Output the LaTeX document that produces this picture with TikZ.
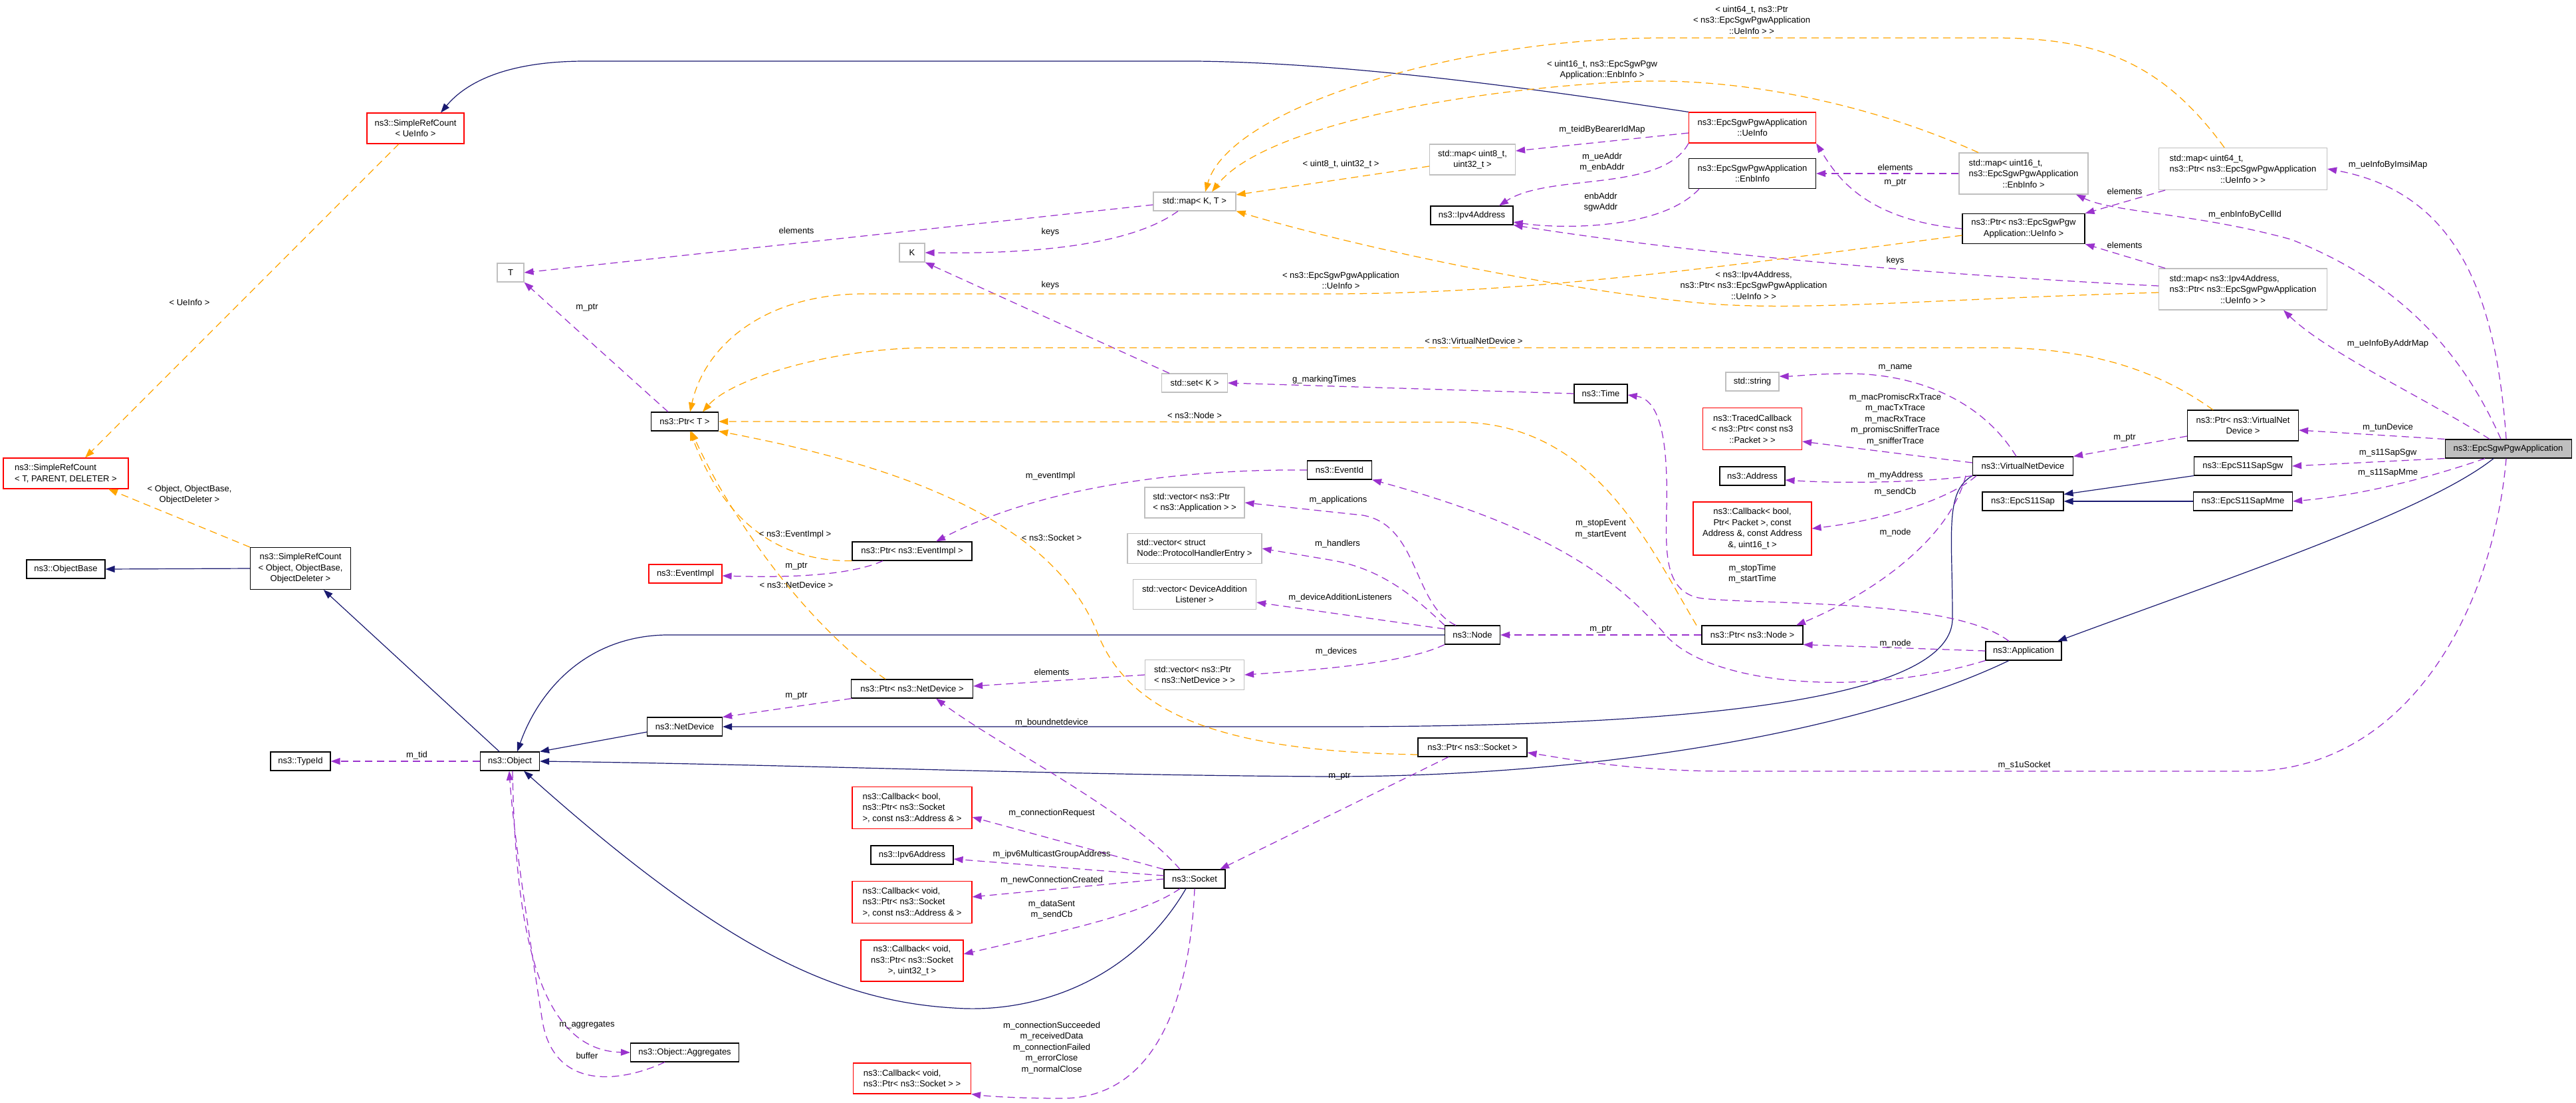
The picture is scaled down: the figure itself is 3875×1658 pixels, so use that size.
\documentclass[tikz,border=0pt]{standalone}
\usepackage{fontspec}
\setmainfont{Liberation Sans}
\usepackage{tikz}
\usetikzlibrary{arrows.meta,positioning,calc}
\definecolor{dxNavy}{RGB}{25,25,112}
\definecolor{dxOrchid}{RGB}{154,50,205}
\definecolor{dxOrange}{RGB}{255,165,0}
\definecolor{dxGrey}{RGB}{191,191,191}
\definecolor{dxRed}{RGB}{255,0,0}
\newcommand{\dxfont}{\fontsize{13}{16.5}\selectfont}

\begin{document}
\begin{tikzpicture}[
    x=1pt, y=-1pt,
    cls/.style={draw=black, fill=white, line width=1.1pt, font=\dxfont, align=center, inner xsep=4pt, inner ysep=3pt, minimum height=28pt},
    redcls/.style={cls, draw=dxRed},
    greycls/.style={cls, draw=dxGrey},
    focus/.style={cls, fill=dxGrey},
    lbl/.style={font=\dxfont, align=center, inner sep=0pt},
    inh/.style={draw=dxNavy, line width=1.2pt, -{Triangle[length=14pt,width=10pt]}},
    member/.style={draw=dxOrchid, line width=1.25pt, dash pattern=on 11pt off 7pt, -{Triangle[length=14pt,width=10pt]}},
    tmpl/.style={draw=dxOrange, line width=1.25pt, dash pattern=on 11pt off 7pt, -{Triangle[length=14pt,width=10pt]}}
  ]
  \path[use as bounding box, fill=white] (0,0) rectangle (3875,1658);

  % classes
  \node[focus, minimum width=190pt] (sgw) at (3773,675) {ns3::EpcSgwPgwApplication};
  \node[redcls, minimum width=191pt, minimum height=46pt] (ueinfo) at (2636,192) {ns3::EpcSgwPgwApplication\\::UeInfo};
  \node[redcls, minimum width=146pt, minimum height=46pt] (srcue) at (625,193) {ns3::SimpleRefCount\\< UeInfo >};
  \node[redcls, minimum width=188pt, minimum height=46pt, align=left] (srct) at (99,712) {ns3::SimpleRefCount\\< T, PARENT, DELETER >};
  \node[cls, minimum width=118pt] (objbase) at (99,856) {ns3::ObjectBase};
  \node[cls, minimum width=151pt, minimum height=63pt] (srcobj) at (452,855) {ns3::SimpleRefCount\\< Object, ObjectBase,\\ObjectDeleter >};
  \node[cls, minimum width=90pt] (typeid) at (452,1145) {ns3::TypeId};
  \node[cls, minimum width=89pt] (object) at (767,1145) {ns3::Object};
  \node[cls, minimum width=163pt] (aggr) at (1030,1583) {ns3::Object::Aggregates};
  \node[greycls, minimum width=40pt] (tparam) at (768,410) {T};
  \node[greycls, minimum width=38pt] (kparam) at (1372,380) {K};
  \node[cls, minimum width=101pt] (ptrt) at (1030,634) {ns3::Ptr< T >};
  \node[redcls, minimum width=110pt] (eventimpl) at (1031,863) {ns3::EventImpl};
  \node[cls, minimum width=180pt] (ptrevimpl) at (1372,829) {ns3::Ptr< ns3::EventImpl >};
  \node[cls, minimum width=113pt] (netdev) at (1030,1093) {ns3::NetDevice};
  \node[cls, minimum width=183pt] (ptrnetdev) at (1372,1036) {ns3::Ptr< ns3::NetDevice >};
  \node[greycls, minimum width=124pt] (mapkt) at (1797,303) {std::map< K, T >};
  \node[greycls, minimum width=99pt] (setk) at (1797,576) {std::set< K >};
  \node[greycls, minimum width=150pt, minimum height=46pt, align=left] (vecapp) at (1797,756) {std::vector< ns3::Ptr\\< ns3::Application > >};
  \node[greycls, minimum width=202pt, minimum height=45pt, align=left] (vecph) at (1797,825) {std::vector< struct\\Node::ProtocolHandlerEntry >};
  \node[greycls, minimum width=185pt, minimum height=45pt] (vecdal) at (1797,894) {std::vector< DeviceAddition\\Listener >};
  \node[greycls, minimum width=149pt, minimum height=45pt, align=left] (vecnd) at (1797,1015) {std::vector< ns3::Ptr\\< ns3::NetDevice > >};
  \node[cls, minimum width=97pt] (eventid) at (2015,707) {ns3::EventId};
  \node[redcls, minimum width=180pt, minimum height=63pt, align=left] (cbconnreq) at (1372,1215) {ns3::Callback< bool,\\ns3::Ptr< ns3::Socket\\>, const ns3::Address \& >};
  \node[cls, minimum width=124pt] (ipv6) at (1372,1286) {ns3::Ipv6Address};
  \node[redcls, minimum width=180pt, minimum height=63pt, align=left] (cbnewconn) at (1372,1357) {ns3::Callback< void,\\ns3::Ptr< ns3::Socket\\>, const ns3::Address \& >};
  \node[redcls, minimum width=154pt, minimum height=62pt] (cbsent) at (1372,1445) {ns3::Callback< void,\\ns3::Ptr< ns3::Socket\\>, uint32\_t >};
  \node[redcls, minimum width=177pt, minimum height=46pt, align=left] (cbsock) at (1372,1622) {ns3::Callback< void,\\ns3::Ptr< ns3::Socket > >};
  \node[cls, minimum width=92pt] (socket) at (1797,1322) {ns3::Socket};
  \node[greycls, minimum width=129pt, minimum height=46pt] (mapueight) at (2215,240) {std::map< uint8\_t,\\uint32\_t >};
  \node[cls, minimum width=124pt] (ipv4) at (2214,324) {ns3::Ipv4Address};
  \node[cls, minimum width=191pt, minimum height=45pt] (enbinfo) at (2636,261) {ns3::EpcSgwPgwApplication\\::EnbInfo};
  \node[greycls, minimum width=194pt, minimum height=62pt] (mapenb) at (3044,261) {\rlap{std::map< uint16\_t,}\phantom{ns3::EpcSgwPgwApplication}\\ns3::EpcSgwPgwApplication\\::EnbInfo >};
  \node[cls, minimum width=184pt, minimum height=45pt] (ptrue) at (3044,344) {ns3::Ptr< ns3::EpcSgwPgw\\Application::UeInfo >};
  \node[greycls, minimum width=253pt, minimum height=63pt] (mapimsi) at (3374,254) {\rlap{std::map< uint64\_t,}\phantom{ns3::Ptr< ns3::EpcSgwPgwApplication}\\ns3::Ptr< ns3::EpcSgwPgwApplication\\::UeInfo > >};
  \node[greycls, minimum width=253pt, minimum height=62pt] (mapaddr) at (3374,435) {\rlap{std::map< ns3::Ipv4Address,}\phantom{ns3::Ptr< ns3::EpcSgwPgwApplication}\\ns3::Ptr< ns3::EpcSgwPgwApplication\\::UeInfo > >};
  \node[cls, minimum width=80pt] (time) at (2408,592) {ns3::Time};
  \node[greycls, minimum width=80pt] (string) at (2636,574) {std::string};
  \node[redcls, minimum width=149pt, minimum height=63pt] (traced) at (2636,645) {ns3::TracedCallback\\< ns3::Ptr< const ns3\\::Packet > >};
  \node[cls, minimum width=98pt] (address) at (2636,716) {ns3::Address};
  \node[redcls, minimum width=178pt, minimum height=80pt] (cbrecv) at (2636,795) {ns3::Callback< bool,\\Ptr< Packet >, const\\Address \&, const Address\\\&, uint16\_t >};
  \node[cls, minimum width=151pt] (vnd) at (3043,701) {ns3::VirtualNetDevice};
  \node[cls, minimum width=83pt] (nsnode) at (2215,955) {ns3::Node};
  \node[cls, minimum width=152pt] (ptrnode) at (2636,955) {ns3::Ptr< ns3::Node >};
  \node[cls, minimum width=114pt] (app) at (3044,979) {ns3::Application};
  \node[cls, minimum width=164pt] (ptrsock) at (2215,1124) {ns3::Ptr< ns3::Socket >};
  \node[cls, minimum width=167pt, minimum height=46pt] (ptrvnd) at (3374,640) {ns3::Ptr< ns3::VirtualNet\\Device >};
  \node[cls, minimum width=147pt] (sgwsap) at (3374,701) {ns3::EpcS11SapSgw};
  \node[cls, minimum width=122pt] (sap) at (3043,754) {ns3::EpcS11Sap};
  \node[cls, minimum width=149pt] (mmesap) at (3374,754) {ns3::EpcS11SapMme};

  % inheritance
  \draw[inh] (ueinfo.north west) .. controls (2350,140) and (2050,95) .. (1800,92) -- (880,92) .. controls (760,92) and (700,125) .. ([xshift=38pt]srcue.north);
  \draw[inh] (srcobj.west) -- (objbase.east);
  \draw[inh] (object) -- (srcobj);
  \draw[inh] (nsnode.west) -- (1000,955) .. controls (880,958) and (810,1040) .. ([xshift=11pt]object.north);
  \draw[inh] ([yshift=-8pt]netdev.west) -- (object.north east);
  \draw[inh] (vnd.south west) .. controls (2925,740) and (2937,800) .. (2937,930) .. controls (2937,1060) and (2500,1093) .. (2000,1093) -- (netdev.east);
  \draw[inh] ([xshift=-22pt]app.south) .. controls (2800,1100) and (2400,1168) .. (2000,1168) .. controls (1600,1166) and (1200,1150) .. (object.east);
  \draw[inh] ([xshift=-13pt]socket.south) .. controls (1700,1480) and (1550,1525) .. (1434,1516) .. controls (1250,1505) and (1080,1420) .. ([xshift=21pt]object.south);
  \draw[inh] (sgwsap.south west) -- ([yshift=-4pt]sap.north east);
  \draw[inh] (mmesap.west) -- (sap.east);
  \draw[inh] ([xshift=-22pt]sgw.south) .. controls (3650,770) and (3350,870) .. ([xshift=51pt]app.north);

  % members
  \draw[member] (sgw.north west) -- ([yshift=-7pt]ptrvnd.east);
  \draw[member] (sgw.south west) -- (sgwsap.east);
  \draw[member] ([xshift=-35pt]sgw.south) .. controls (3650,720) and (3550,745) .. (mmesap.east);
  \draw[member] ([xshift=-3pt]sgw.south) .. controls (3750,920) and (3620,1160) .. (3380,1160) -- (2600,1160) .. controls (2450,1160) and (2350,1140) .. ([yshift=-8pt]ptrsock.east);
  \draw[member] ([xshift=-3pt]sgw.north) .. controls (3755,450) and (3700,290) .. (mapimsi.east);
  \draw[member] ([xshift=-11pt]sgw.north) .. controls (3700,520) and (3600,420) .. (3446,360) .. controls (3300,320) and (3180,320) .. ([xshift=79pt]mapenb.south);
  \draw[member] ([xshift=-28pt]sgw.north) .. controls (3650,600) and (3500,530) .. ([xshift=61pt]mapaddr.south);
  \draw[member] ([xshift=-117pt]mapimsi.south) -- (ptrue.north east);
  \draw[member] ([xshift=-117pt]mapaddr.north) -- (ptrue.south east);
  \draw[member] ([yshift=5pt]mapaddr.west) .. controls (3000,418) and (2600,390) .. (ipv4.south east);
  \draw[member] (mapenb.west) -- (enbinfo.east);
  \draw[member] (ptrue.west) .. controls (2800,330) and (2760,260) .. (ueinfo.south east);
  \draw[member] ([yshift=-8pt]ueinfo.west) -- ([yshift=13pt]mapueight.east);
  \draw[member] (ueinfo.south west) .. controls (2500,290) and (2330,260) .. ([xshift=41pt]ipv4.north);
  \draw[member] ([xshift=-80pt]enbinfo.south) .. controls (2500,345) and (2350,345) .. ([yshift=-10pt]ipv4.east);
  \draw[member] ([yshift=-5pt]mapkt.west) -- (tparam.east);
  \draw[member] ([xshift=-25pt]mapkt.south) .. controls (1700,370) and (1550,382) .. (kparam.east);
  \draw[member] ([xshift=-38pt]setk.north) -- (kparam.south east);
  \draw[member] (time.west) -- (setk.east);
  \draw[member] ([xshift=-25pt]ptrt.north) -- (tparam.south east);
  \draw[member] ([xshift=-44pt]ptrevimpl.south) .. controls (1270,870) and (1150,868) .. ([yshift=-3pt]eventimpl.east);
  \draw[member] (eventid.west) .. controls (1750,705) and (1550,740) .. ([xshift=36pt]ptrevimpl.north);
  \draw[member] ([xshift=-91pt]ptrnetdev.south) -- (netdev.north east);
  \draw[member] (vecnd.west) -- ([yshift=4pt]ptrnetdev.east);
  \draw[member] ([xshift=-22pt]socket.north) .. controls (1700,1220) and (1500,1120) .. ([xshift=36pt]ptrnetdev.south);
  \draw[member] ([xshift=-36pt]ptrsock.south) -- ([xshift=38pt]socket.north);
  \draw[member] (socket.north west) -- ([yshift=-14pt]cbconnreq.east);
  \draw[member] ([yshift=5pt]socket.west) -- ([yshift=-6pt]ipv6.east);
  \draw[member] (socket.west) -- ([yshift=8pt]cbnewconn.east);
  \draw[member] ([xshift=-22pt]socket.south) .. controls (1720,1375) and (1600,1400) .. ([yshift=10pt]cbsent.east);
  \draw[member] (socket.south) .. controls (1790,1500) and (1740,1650) .. (1600,1652) .. controls (1520,1652) and (1480,1648) .. (cbsock.south east);
  \draw[member] (object.west) -- (typeid.east);
  \draw[member] ([xshift=4pt]object.south) .. controls (775,1400) and (810,1580) .. (aggr.west);
  \draw[member] ([xshift=-30pt]aggr.south) .. controls (930,1630) and (830,1640) .. (815,1530) .. controls (795,1400) and (772,1250) .. ([xshift=-1pt]object.south);
  \draw[member] ([xshift=-25pt]nsnode.north) .. controls (2125,910) and (2135,790) .. (2050,775) -- (vecapp.east);
  \draw[member] (nsnode.north west) .. controls (2130,900) and (2080,855) .. (2000,842) -- (vecph.east);
  \draw[member] ([yshift=9pt]nsnode.west) -- ([yshift=-12pt]vecdal.east);
  \draw[member] (nsnode.south west) .. controls (2130,990) and (2050,1003) .. (vecnd.east);
  \draw[member] (ptrnode.west) -- (nsnode.east);
  \draw[member] ([xshift=-86pt]vnd.south) .. controls (2930,820) and (2800,900) .. ([xshift=66pt]ptrnode.north);
  \draw[member] (app.west) -- (ptrnode.south east);
  \draw[member] ([xshift=-22pt]app.north) .. controls (2940,900) and (2650,910) .. (2560,900) .. controls (2490,890) and (2510,800) .. (2507,720) .. controls (2505,640) and (2490,600) .. ([yshift=-2pt]time.east);
  \draw[member] (app.south west) .. controls (2800,1050) and (2580,1030) .. (2510,960) .. controls (2440,880) and (2350,800) .. (eventid.south east);
  \draw[member] ([xshift=-10pt]vnd.north) .. controls (2980,600) and (2880,562) .. (2780,562) .. controls (2730,562) and (2700,566) .. ([yshift=8pt]string.east);
  \draw[member] ([yshift=5pt]vnd.west) -- ([yshift=-19pt]traced.east);
  \draw[member] (vnd.south west) .. controls (2900,725) and (2780,728) .. ([yshift=-6pt]address.east);
  \draw[member] ([xshift=-70pt]vnd.south) .. controls (2940,745) and (2850,780) .. (cbrecv.east);
  \draw[member] ([yshift=-16pt]ptrvnd.west) -- (vnd.north east);

  % template instances
  \draw[tmpl] ([xshift=-25pt]srcue.south) -- ([xshift=29pt]srct.north);
  \draw[tmpl] (srcobj.north west) -- ([xshift=64pt]srct.south);
  \draw[tmpl] ([yshift=-10pt]ptrue.west) .. controls (2600,400) and (2300,442) .. (2000,442) -- (1300,442) .. controls (1150,442) and (1060,520) .. ([xshift=8pt]ptrt.north);
  \draw[tmpl] ([xshift=-45pt]ptrvnd.north) .. controls (3250,560) and (3150,523) .. (3000,523) -- (1400,523) .. controls (1250,523) and (1100,570) .. ([xshift=27pt]ptrt.north);
  \draw[tmpl] ([xshift=-84pt]ptrnode.north) .. controls (2480,820) and (2400,640) .. (2200,635) -- (ptrt.east);
  \draw[tmpl] (ptrevimpl.south west) .. controls (1150,845) and (1080,760) .. ([xshift=8pt]ptrt.south);
  \draw[tmpl] ([xshift=-40pt]ptrnetdev.north) .. controls (1200,930) and (1090,760) .. ([xshift=10pt]ptrt.south);
  \draw[tmpl] ([yshift=-11pt]ptrsock.west) .. controls (1850,1130) and (1700,1080) .. (1650,950) .. controls (1580,780) and (1350,700) .. (ptrt.south east);
  \draw[tmpl] ([xshift=-28pt]mapimsi.north) .. controls (3250,90) and (3150,57) .. (3000,57) -- (2500,57) .. controls (2200,57) and (1850,160) .. ([xshift=16pt]mapkt.north);
  \draw[tmpl] ([xshift=-68pt]mapenb.north) .. controls (2800,150) and (2600,115) .. (2446,123) .. controls (2200,135) and (1900,190) .. ([xshift=26pt]mapkt.north);
  \draw[tmpl] ([yshift=-10pt]mapueight.west) -- ([yshift=10pt]mapkt.east);
  \draw[tmpl] ([yshift=-5pt]mapaddr.west) .. controls (2900,450) and (2700,470) .. (2550,455) .. controls (2300,430) and (2000,360) .. (mapkt.south east);

  % edge labels
  \node[lbl] (l_ueinfo) at (285,455) {< UeInfo >};
  \node[lbl] (l_objdel) at (285,744) {< Object, ObjectBase,\\ObjectDeleter >};
  \node[lbl] (l_tptr) at (883,463) {m\_ptr};
  \node[lbl] (l_elemt) at (1198,347) {elements};
  \node[lbl] (l_keysmap) at (1580,349) {keys};
  \node[lbl] (l_keysset) at (1580,429) {keys};
  \node[lbl] (l_tid) at (627,1136) {m\_tid};
  \node[lbl] (l_aggr) at (883,1542) {m\_aggregates};
  \node[lbl] (l_buffer) at (883,1588) {buffer};
  \node[lbl] (l_evtmpl) at (1196,804) {< ns3::EventImpl >};
  \node[lbl] (l_evptr) at (1198,852) {m\_ptr};
  \node[lbl] (l_ndtmpl) at (1198,880) {< ns3::NetDevice >};
  \node[lbl] (l_socktmpl) at (1582,809) {< ns3::Socket >};
  \node[lbl] (l_nodetmpl) at (1797,625) {< ns3::Node >};
  \node[lbl] (l_eventimpl) at (1580,716) {m\_eventImpl};
  \node[lbl] (l_ndelem) at (1582,1011) {elements};
  \node[lbl] (l_ndptr) at (1198,1047) {m\_ptr};
  \node[lbl] (l_bound) at (1582,1087) {m\_boundnetdevice};
  \node[lbl] (l_connreq) at (1582,1223) {m\_connectionRequest};
  \node[lbl] (l_ipv6) at (1582,1285) {m\_ipv6MulticastGroupAddress};
  \node[lbl] (l_newconn) at (1582,1324) {m\_newConnectionCreated};
  \node[lbl] (l_sent) at (1582,1368) {m\_dataSent\\m\_sendCb};
  \node[lbl] (l_close) at (1582,1576) {m\_connectionSucceeded\\m\_receivedData\\m\_connectionFailed\\m\_errorClose\\m\_normalClose};
  \node[lbl] (l_marking) at (1992,571) {g\_markingTimes};
  \node[lbl] (l_apps) at (2013,752) {m\_applications};
  \node[lbl] (l_handlers) at (2012,818) {m\_handlers};
  \node[lbl] (l_dal) at (2016,899) {m\_deviceAdditionListeners};
  \node[lbl] (l_devices) at (2010,980) {m\_devices};
  \node[lbl] (l_sockptr) at (2015,1168) {m\_ptr};
  \node[lbl] (l_imsitmpl) at (2635,30) {< uint64\_t, ns3::Ptr\\< ns3::EpcSgwPgwApplication\\::UeInfo > >};
  \node[lbl] (l_enbtmpl) at (2410,105) {< uint16\_t, ns3::EpcSgwPgw\\Application::EnbInfo >};
  \node[lbl] (l_teid) at (2410,195) {m\_teidByBearerIdMap};
  \node[lbl] (l_u8tmpl) at (2017,247) {< uint8\_t, uint32\_t >};
  \node[lbl] (l_ueaddr) at (2410,244) {m\_ueAddr\\m\_enbAddr};
  \node[lbl] (l_enbaddr) at (2408,304) {enbAddr\\sgwAddr};
  \node[lbl] (l_uetmpl) at (2017,422) {< ns3::EpcSgwPgwApplication\\::UeInfo >};
  \node[lbl] (l_addrtmpl) at (2638,429) {< ns3::Ipv4Address,\\ns3::Ptr< ns3::EpcSgwPgwApplication\\::UeInfo > >};
  \node[lbl] (l_vndtmpl) at (2217,513) {< ns3::VirtualNetDevice >};
  \node[lbl] (l_enbelem) at (2851,252) {elements};
  \node[lbl] (l_ueptr) at (2851,275) {m\_ptr};
  \node[lbl] (l_keysaddr) at (2851,392) {keys};
  \node[lbl] (l_name) at (2851,553) {m\_name};
  \node[lbl] (l_traces) at (2851,631) {m\_macPromiscRxTrace\\m\_macTxTrace\\m\_macRxTrace\\m\_promiscSnifferTrace\\m\_snifferTrace};
  \node[lbl] (l_myaddr) at (2851,715) {m\_myAddress};
  \node[lbl] (l_sendcb) at (2851,740) {m\_sendCb};
  \node[lbl] (l_vndnode) at (2851,801) {m\_node};
  \node[lbl] (l_events) at (2408,796) {m\_stopEvent\\m\_startEvent};
  \node[lbl] (l_times) at (2636,863) {m\_stopTime\\m\_startTime};
  \node[lbl] (l_nodeptr) at (2408,947) {m\_ptr};
  \node[lbl] (l_appnode) at (2851,968) {m\_node};
  \node[lbl] (l_imsielem) at (3196,288) {elements};
  \node[lbl] (l_cellid) at (3377,323) {m\_enbInfoByCellId};
  \node[lbl] (l_addrelem) at (3196,369) {elements};
  \node[lbl] (l_imsi) at (3592,248) {m\_ueInfoByImsiMap};
  \node[lbl] (l_addrmap) at (3592,517) {m\_ueInfoByAddrMap};
  \node[lbl] (l_vndptr) at (3196,659) {m\_ptr};
  \node[lbl] (l_tun) at (3592,643) {m\_tunDevice};
  \node[lbl] (l_sgwsap) at (3592,681) {m\_s11SapSgw};
  \node[lbl] (l_mmesap) at (3592,711) {m\_s11SapMme};
  \node[lbl] (l_s1u) at (3045,1151) {m\_s1uSocket};
\end{tikzpicture}
\end{document}
